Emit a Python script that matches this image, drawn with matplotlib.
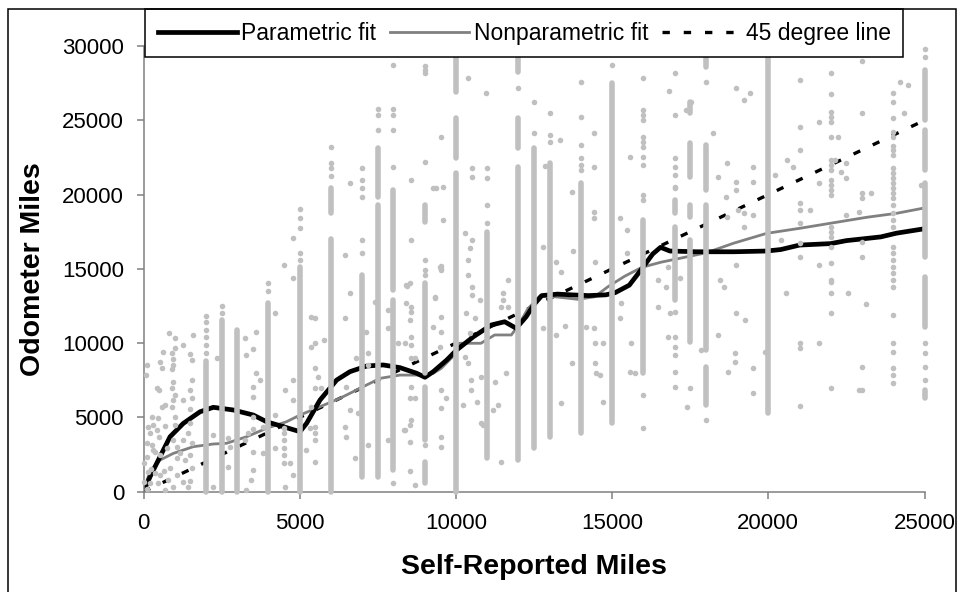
import matplotlib.pyplot as plt
from matplotlib.patches import Rectangle

plt.rcParams['font.family'] = ['Liberation Sans', 'DejaVu Sans']
plt.rcParams['lines.scale_dashes'] = False

# ---- fitted curves ----
param_x = [0, 210, 530, 850, 1275, 1810, 2235, 2875, 3515, 3940, 4475, 5010, 5220, 5650,
           6185, 6610, 7145, 7675, 8210, 8745, 9010, 9275, 9705, 10025, 10560, 11130, 11560,
           11930, 12250, 12500, 12750, 13250, 13700, 14250, 14800, 15100, 15550, 15950, 16300,
           16550, 16850, 17700, 18900, 19950, 20400, 21000, 22000, 22500, 23600, 24100, 25000]
param_y = [0, 1010, 2360, 3700, 4600, 5380, 5680, 5500, 5160, 4710, 4375, 4040, 4600, 6170,
           7520, 8080, 8460, 8530, 8350, 7970, 7700, 8080, 8860, 9540, 10430, 11220, 11440,
           11000, 11780, 12600, 13200, 13300, 13250, 13200, 13250, 13400, 13900, 15000, 16000,
           16450, 16200, 16150, 16150, 16200, 16300, 16600, 16700, 16900, 17150, 17400, 17700]

nonparam_x = [0, 210, 530, 955, 1595, 2235, 2660, 3300, 3940, 4580, 5010, 5650, 6290, 6930,
              7570, 8210, 8850, 9275, 9530, 10000, 10100, 10800, 11240, 11775, 12000, 12300,
              12700, 13270, 13900, 14440, 14870, 15400, 15950, 16570, 17170, 18030, 18880,
              19950, 21010, 22080, 23150, 24110, 25000]
nonparam_y = [110, 1350, 2130, 2580, 3030, 3210, 3260, 3700, 4270, 4710, 5160, 5720, 6290, 6960,
              7630, 7850, 7850, 7970, 8300, 9310, 9990, 9990, 10550, 10550, 11200, 12300,
              13200, 13100, 12950, 13120, 13800, 14500, 15100, 15450, 15710, 16090, 16720,
              17390, 17730, 18100, 18470, 18740, 19100]

line45_x = [0, 25000]
line45_y = [0, 25000]

# ---- dense stacks of observations at round self-reported values (x, low, high) ----
run_x = [2000, 2500, 3000, 4000, 5000, 6000, 6000, 7000, 7500, 7500, 8000, 8000,
         9000, 9000, 9000, 9000, 10000, 10000, 10000, 11000, 12000, 12000, 12000,
         12500, 13000, 14000, 15000, 16000, 17000, 17000, 17500, 17500, 17500, 17500,
         18000, 18000, 18000, 18000, 20000, 25000, 25000, 25000, 25000, 25000]
run_lo = [0, 0, 0, 0, 0, 18740, 0, 1020, 19860, 1020, 13580, 1470,
          18170, 7970, 3480, 570, 26920, 22440, 0, 2250, 28270, 23110, 2140,
          2930, 3710, 3930, 4600, 7970, 18740, 12900, 25470, 21200, 18510, 10100,
          28610, 20310, 9540, 5840, 5280, 25020, 21650, 15820, 11110, 6290]
run_hi = [8780, 11580, 10910, 12680, 15150, 20420, 17000, 14590, 23110, 19300, 20310, 12900,
          19300, 14030, 7070, 2030, 29390, 25130, 21430, 17500, 29390, 25130, 21880,
          23110, 22100, 20760, 27480, 18290, 19630, 17840, 26250, 23450, 19300, 16940,
          29170, 23330, 19300, 8420, 29390, 28380, 24340, 20760, 14470, 6850]

# ---- single observations on the round-number columns ----
col_pts_x = ([2000] * 6 + [2500] * 2 + [4000] * 2 + [5000] * 5 + [6000] * 4 + [7000] * 6 +
             [7500] * 3 + [8000] * 6 + [9000] * 8 + [11000] * 4 + [12000] + [12500] * 2 +
             [13000] * 3 + [14000] * 6 + [15000] + [16000] * 13 + [17000] * 13 + [17500] +
             [18000] * 2 + [21000] * 11 + [22000] * 23 + [23000] * 8 + [24000] * 32 + [25000] * 6)
col_pts_y = [11850, 11400, 10910, 10400, 9900, 9340,
             12480, 12000,
             14050, 13490,
             19000, 18400, 17770, 16050, 15600,
             23180, 22100, 21760, 21250,
             21760, 20980, 20420, 19860, 16940, 16050,
             25730, 25350, 24340,
             28720, 25730, 25350, 24340, 21880, 570,
             28650, 28380, 28160, 22210, 15600, 14920, 14590, 3150,
             21760, 21090, 19300, 18060,
             27150,
             26250, 24120,
             25470, 24010, 23560,
             27600, 25240, 23330, 22440, 21990, 21650,
             28720,
             27870, 25690, 25350, 25020, 23900, 23560, 23220, 22550, 21990, 19970, 19630, 6510, 4270,
             28200, 25350, 22440, 21880, 21320, 20530, 20420, 12120, 10440, 9760, 9200, 8080, 7070,
             6960,
             27600, 4830,
             27710, 24570, 23000, 19410, 18960, 18060, 16720, 15820, 9990, 9650, 5770,
             28200, 26770, 25580, 25240, 24900, 23850, 22330, 21990, 21650, 20980, 20640, 20310,
             19970, 17840, 17500, 17170, 16490, 15370, 14250, 14140, 13350, 12010, 6960,
             29010, 25470, 20080, 19750, 16830, 15820, 8420, 6850,
             26810, 26250, 25170, 24230, 23890, 23270, 23000, 22660, 21760, 21430, 21090, 20760,
             20420, 20080, 19750, 19300, 18740, 18290, 17840, 16490, 16050, 15600, 15150, 14700,
             14250, 13810, 11900, 9990, 9430, 8310, 7860, 7300,
             29770, 29280, 9990, 9320, 8420, 7520]

# ---- scattered observations off the round numbers ----
scatter_x = [827, 1008, 1254, 1574, 614, 902, 955, 955, 902, 582, 528, 101, 80, 1542, 1542, 422,
             507, 955, 902, 1008, 955, 688, 582, 902, 1275, 1488, 1542, 261, 475, 315, 155, 422,
             208, 101, 261, 368, 528, 742, 955, 1062, 1275, 1435, 1542, 1168, 1062, 1328, 1488,
             101, 0, 155, 368, 528, 0, 208, 795, 1062, 1275, 1435, 1542, 955, 688,
             100, 250, 450, 650, 850, 1000, 1000, 1000, 1500, 1500, 1500, 500, 300, 700,
             2225, 2705, 2760, 2705, 2225, 3240, 3290, 3450, 3505, 3505, 3345, 3610, 3240, 3290,
             3610, 3505, 3720, 3825, 3825, 2363, 3505, 3500, 3500, 3500, 1500,
             4200, 4520, 4200, 4500, 4500, 4500, 4500, 4500, 4500, 4200, 4680, 4785, 4520, 4785,
             4785, 4500, 4785, 4785, 5370, 5480, 5370, 5480, 5480, 5585, 5480, 5370, 5320, 5480,
             5480, 5480, 5210, 5480, 5690, 5780, 6440, 6600, 6600, 6440, 6490, 6600, 6440, 6490,
             6810, 6865, 6760, 7185, 7130, 7185, 7185, 7400, 7825, 7825, 7825, 8145, 8340,
             8425, 9277, 9331, 9513, 9513, 10451,
             8573, 8573, 9534, 9374, 9587, 9587, 10388, 10975, 10516, 10516, 10280, 10516, 10388,
             10388, 10516, 10516, 10335, 10600, 10440, 10280, 10388, 10495, 10495, 10228, 10676,
             10815, 10815, 10870, 11241, 11188, 11348, 11455, 11615, 11508, 11508, 11455, 11668,
             11668, 10762, 9481, 9534, 9320, 9534, 9267, 9534, 9481, 9534, 9694, 9534, 9534, 9534,
             8573, 8413, 8573, 8520, 8573, 8573, 8360, 8573, 8680, 8573, 8520, 8680, 8573, 8520,
             8360, 8520, 8520, 8680, 8413, 8520,
             13320, 12840, 13716, 13748, 13375, 12788, 13215, 13482, 13215, 12788, 13375, 13727,
             14175, 14420, 14420, 14420, 14420, 14442, 14420, 14442, 14709, 14442, 14495, 14602,
             14709, 15242, 15487, 15487, 15295, 15242, 15594, 15562, 15722, 16469, 16469, 15562,
             16820, 17376, 17536, 18230, 18976, 19222, 19403, 18390, 18688, 18656, 18976, 18976,
             18688, 19030, 19222, 19222, 19510, 19510, 19510, 20204, 20610, 20790, 20396, 18976,
             18443, 18582, 18976, 19243, 18390, 17835, 18944, 18944, 18709, 19510, 19510, 17408,
             19883, 20556, 16789, 16736, 16842, 17163, 16789,
             21612, 22230, 22337, 22497, 22476, 22124, 21324, 21612, 21612, 21612, 22550, 22497,
             22892, 23137, 23300, 22892, 24205, 24471, 24343, 24898]
scatter_y = [10660, 10320, 9870, 10545, 9420, 9310, 8910, 8530, 8230, 8300, 8750, 8530, 7850, 8860,
             7520, 6960, 6840, 7400, 6960, 6510, 6170, 5830, 5720, 5720, 6170, 6840, 6280, 5050,
             4940, 4490, 4380, 4150, 3930, 3250, 3140, 2690, 2470, 2920, 3480, 3030, 3480, 3930,
             3250, 2580, 2250, 2130, 2470, 2360, 1910, 1350, 1240, 1120, 680, 560, 790, 1120, 680,
             340, 1570, 340, 120,
             150, 1500, 600, 1400, 1600, 4500, 5000, 9700, 4600, 5600, 9300, 3700, 2800, 4400,
             3820, 3600, 3040, 1690, 340, 3480, 120, 790, 1470, 2700, 3930, 7970, 10330, 9200,
             10770, 6400, 7520, 4380, 2590, 8980, 7070, 5000, 4200, 9600, 700,
             12010, 6850, 5170, 4270, 3930, 3480, 2920, 2470, 1910, 2920, 1910, 1130, 340, 7520,
             6170, 15260, 17050, 14360, 11780, 11670, 9760, 9990, 8310, 7750, 6960, 5730, 4270,
             4380, 3930, 3480, 2810, 2030, 6960, 10210, 15930, 20760, 13350, 11670, 7070, 5500,
             4380, 3710, 8980, 5280, 2250, 3150, 10770, 9310, 8530, 12790, 12230, 11000, 3480,
             9990, 4160,
             13840, 20420, 13120, 15190, 14970, 16380,
             20980, 16940, 23900, 20420, 20530, 18290, 27820, 26810, 21760, 21200, 17390, 16940,
             15600, 14590, 13810, 13240, 12010, 11670, 10660, 9090, 8640, 7520, 6850, 5840, 6060,
             7750, 4600, 4490, 7410, 5500, 5840, 2030, 7970, 13350, 12900, 12460, 12460, 14250,
             12900, 15150, 14930, 13020, 11780, 11110, 10770, 9760, 6850, 6290, 5620, 3710, 3040,
             12460, 12680, 12120, 11560, 10440, 9880, 9990, 8980, 8980, 7070, 6290, 6290, 4830,
             4490, 4160, 3370, 1360, 460, 13920, 14030,
             23670, 21920, 20190, 16220, 14810, 16490, 15480, 11160, 10550, 11000, 5950, 8690,
             11070, 24120, 21880, 18850, 18400, 15480, 11000, 9990, 9990, 8640, 7970, 7860, 6060,
             18400, 17610, 16050, 12680, 11670, 9990, 8080, 7970, 14250, 12460, 22550,
             26990, 25690, 26250, 24120, 27150, 26360, 26860, 21200, 22100, 19860, 20870, 20310,
             18510, 18960, 18740, 17840, 21880, 20870, 18620, 21320, 22320, 21880, 16940, 15260,
             14250, 13810, 12010, 11560, 10550, 9540, 9320, 8760, 8080, 8310, 6620, 5730, 9430,
             13350, 15150, 13810, 12010, 14360, 10440,
             24900, 23900, 21540, 22100, 21090, 22330, 18960, 20760, 15260, 9990, 13350, 18620,
             18850, 12610, 20080, 6850, 27600, 27370, 25470, 20640]

x_ticks = [0, 5000, 10000, 15000, 20000, 25000]
y_ticks = [0, 5000, 10000, 15000, 20000, 25000, 30000]

dot_color = '#C0C0C0'
dot_size = 16

fig = plt.figure(figsize=(9.61, 5.92), dpi=100)
ax = fig.add_axes([143.5 / 961, 100.3 / 592, 781 / 961, 445.7 / 592])

# 拟合线
ax.plot(line45_x, line45_y, color='black', linewidth=2.4, dashes=(5.3, 10),
        label='45 degree line', zorder=2)
ax.plot(nonparam_x, nonparam_y, color='#808080', linewidth=2.0,
        label='Nonparametric fit', zorder=2)
ax.plot(param_x, param_y, color='black', linewidth=3.4, solid_joinstyle='round',
        label='Parametric fit', zorder=2)

# 观测点 (drawn above the lines, as in the original)
ax.vlines(run_x, run_lo, run_hi, colors=dot_color, linewidth=4.0, capstyle='round',
          zorder=3, clip_on=False)
ax.scatter(col_pts_x, col_pts_y, s=dot_size, color=dot_color, linewidths=0, zorder=3,
           clip_on=False)
ax.scatter(scatter_x, scatter_y, s=dot_size, color=dot_color, linewidths=0, zorder=3,
           clip_on=False)

ax.set_xlim(0, 25000)
ax.set_ylim(0, 30000)
ax.set_xticks(x_ticks)
ax.set_yticks(y_ticks)
ax.tick_params(axis='both', direction='out', length=5, width=1.1, color='#808080',
               labelsize=16, labelcolor='black')
ax.tick_params(axis='y', pad=9)
ax.tick_params(axis='x', pad=10)
for side in ['top', 'right']:
    ax.spines[side].set_visible(False)
for side in ['left', 'bottom']:
    ax.spines[side].set_color('#808080')
    ax.spines[side].set_linewidth(1.1)

fig.text(534 / 961, 1 - 567 / 592, 'Self-Reported Miles', ha='center', va='center',
         fontsize=20.5, fontweight='bold')
fig.text(33 / 961, 1 - 269 / 592, 'Odometer Miles', ha='center', va='center',
         rotation=90, fontsize=20.5, fontweight='bold')

handles, labels = ax.get_legend_handles_labels()
order = [2, 1, 0]
leg = ax.legend([handles[i] for i in order], [labels[i] for i in order],
                loc='upper left', bbox_to_anchor=(145 / 961, 1 - 9 / 592),
                bbox_transform=fig.transFigure, ncol=3, fontsize=16.5, frameon=True,
                fancybox=False, edgecolor='black', framealpha=1, borderpad=0.55,
                handlelength=3.45, handletextpad=0.2, columnspacing=0.6, borderaxespad=0)
leg.get_frame().set_linewidth(1.1)
leg.set_zorder(10)

# chart border
fig.add_artist(Rectangle((8 / 961, -0.05), 948 / 961, 1.05 - 9 / 592, transform=fig.transFigure,
                         fill=False, edgecolor='black', linewidth=1.1))

fig.savefig('out.png', dpi=100)
